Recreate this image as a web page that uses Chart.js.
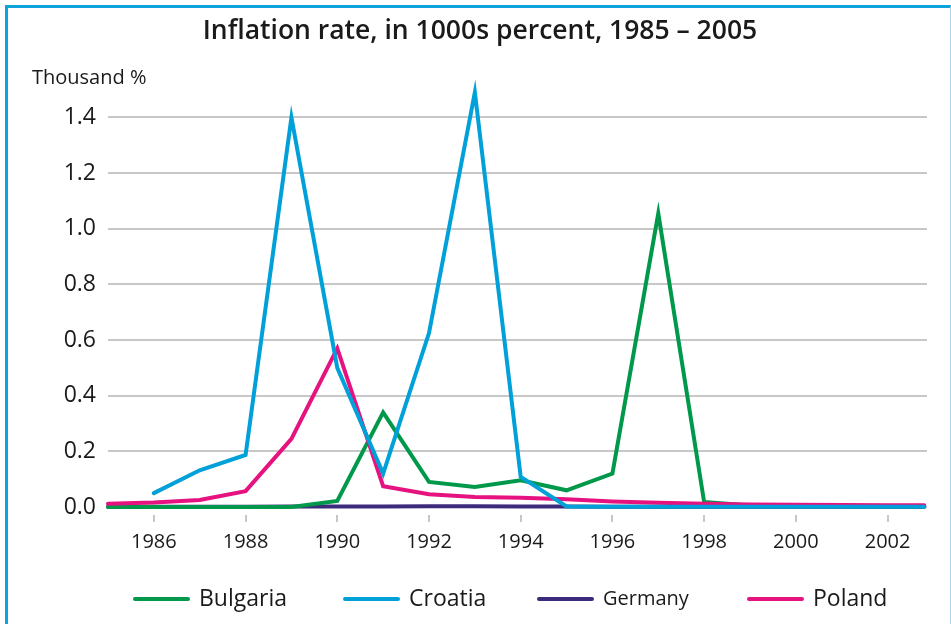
<!DOCTYPE html>
<html>
<head>
<meta charset="utf-8">
<script src="https://cdn.jsdelivr.net/npm/chart.js@4.4.1/dist/chart.umd.min.js"></script>
<style>
  html, body { margin: 0; padding: 0; background: #fff; }
  #wrap { position: relative; width: 951px; height: 624px; overflow: hidden; }
  #frame {
    position: absolute; left: 5px; top: 5px; width: 942px; height: 640px;
    border-top: 3px solid #0ea3da; border-left: 3px solid #0ea3da;
    border-right: 1px solid #a9dcf1; border-bottom: none;
  }
  canvas { position: absolute; left: 0; top: 0; }
</style>
</head>
<body>
<div id="wrap">
  <div id="frame"></div>
  <canvas id="inflationChart" width="951" height="624"></canvas>
</div>
<script>
// Данные (тысячи процентов)
const years = [1985, 1986, 1987, 1988, 1989, 1990, 1991, 1992, 1993, 1994,
               1995, 1996, 1997, 1998, 1999, 2000, 2001, 2002, 2002.8];
const bulgaria = [0, 0, 0, 0, 0, 0.022, 0.34, 0.09, 0.072, 0.096,
                  0.06, 0.12, 1.055, 0.018, 0.005, 0.005, 0.004, 0.003, 0.003];
const croatia = [null, 0.05, 0.132, 0.187, 1.40, 0.50, 0.12, 0.625, 1.49, 0.108,
                 0.002, 0.001, 0.001, 0.001, 0.001, 0.001, 0.001, 0.001, 0.001];
const germany = [0.001, 0.001, 0.001, 0.001, 0.002, 0.002, 0.002, 0.003, 0.003, 0.002,
                 0.002, 0.001, 0.001, 0.001, 0.001, 0.001, 0.001, 0.001, 0.001];
const poland = [0.012, 0.016, 0.025, 0.057, 0.245, 0.57, 0.075, 0.046, 0.036, 0.033,
                0.028, 0.02, 0.015, 0.012, 0.009, 0.008, 0.007, 0.006, 0.006];

const xTicks = [1986, 1988, 1990, 1992, 1994, 1996, 1998, 2000, 2002];
const yTicks = [0, 0.2, 0.4, 0.6, 0.8, 1.0, 1.2, 1.4];

const FONT = "'Open Sans', 'Noto Sans', sans-serif";
const TITLE = 'Inflation rate, in 1000s percent, 1985 – 2005';

// Позиции и размеры шрифта легенды
const legendStart = [133, 343, 537, 747];
const legendFontSize = [23, 23, 20, 23];

function series(values) {
    return values.map((v, i) => ({ x: years[i], y: v }));
}

// Заголовок, подпись "Thousand %" и легенда снизу
const extras = {
    id: 'extras',
    afterDraw(chart) {
        const ctx = chart.ctx;
        ctx.save();
        ctx.fillStyle = '#1a1a1a';
        ctx.textBaseline = 'middle';

        ctx.font = `600 26.5px ${FONT}`;
        ctx.textAlign = 'center';
        ctx.fillText(TITLE, 480, 31);

        ctx.font = `20px ${FONT}`;
        ctx.textAlign = 'left';
        ctx.fillText('Thousand %', 32, 78);

        const y = 599;
        chart.data.datasets.forEach((ds, i) => {
            const x0 = legendStart[i];
            ctx.strokeStyle = ds.borderColor;
            ctx.lineWidth = 4;
            ctx.lineCap = 'round';
            ctx.beginPath();
            ctx.moveTo(x0 + 2, y);
            ctx.lineTo(x0 + 55, y);
            ctx.stroke();
            ctx.font = `${legendFontSize[i]}px ${FONT}`;
            ctx.fillText(ds.label, x0 + 66, y);
        });
        ctx.restore();
    }
};

const ctx = document.getElementById('inflationChart').getContext('2d');
new Chart(ctx, {
    type: 'line',
    data: {
        datasets: [
            { label: 'Bulgaria', data: series(bulgaria), borderColor: '#00984a', backgroundColor: '#00984a', order: 2, clip: false },
            { label: 'Croatia', data: series(croatia), borderColor: '#00a0d9', backgroundColor: '#00a0d9', order: 0, clip: false },
            { label: 'Germany', data: series(germany), borderColor: '#3c2a7c', backgroundColor: '#3c2a7c', order: 3, clip: false },
            { label: 'Poland', data: series(poland), borderColor: '#e5127f', backgroundColor: '#e5127f', order: 1, clip: false }
        ]
    },
    options: {
        responsive: false,
        animation: false,
        elements: {
            line: { borderWidth: 4, tension: 0, borderCapStyle: 'round', borderJoinStyle: 'miter' },
            point: { radius: 0, hoverRadius: 0 }
        },
        layout: { padding: { left: 8, right: 24, top: 84, bottom: 62 } },
        plugins: {
            title: { display: false },
            legend: { display: false },
            tooltip: { enabled: false }
        },
        scales: {
            x: {
                type: 'linear',
                min: 1985,
                max: 2002.86,
                afterBuildTicks(axis) {
                    axis.ticks = xTicks.map(v => ({ value: v }));
                },
                grid: {
                    drawOnChartArea: false,
                    color: '#c8c8c8',
                    lineWidth: 2,
                    tickLength: 15,
                    tickBorderDash: [0, 8, 7, 100]
                },
                border: { display: false },
                ticks: {
                    color: '#1a1a1a',
                    font: { family: FONT, size: 20 },
                    padding: 8,
                    maxRotation: 0,
                    callback: v => String(v)
                }
            },
            y: {
                min: 0,
                max: 1.52,
                afterBuildTicks(axis) {
                    axis.ticks = yTicks.map(v => ({ value: v }));
                },
                afterFit(axis) {
                    axis.width = 100;
                },
                grid: {
                    color: '#c8c8c8',
                    lineWidth: 2,
                    drawTicks: false
                },
                border: { display: false },
                ticks: {
                    color: '#1a1a1a',
                    font: { family: FONT, size: 23 },
                    padding: 12,
                    callback: v => v.toFixed(1)
                }
            }
        }
    },
    plugins: [extras]
});
</script>
</body>
</html>
